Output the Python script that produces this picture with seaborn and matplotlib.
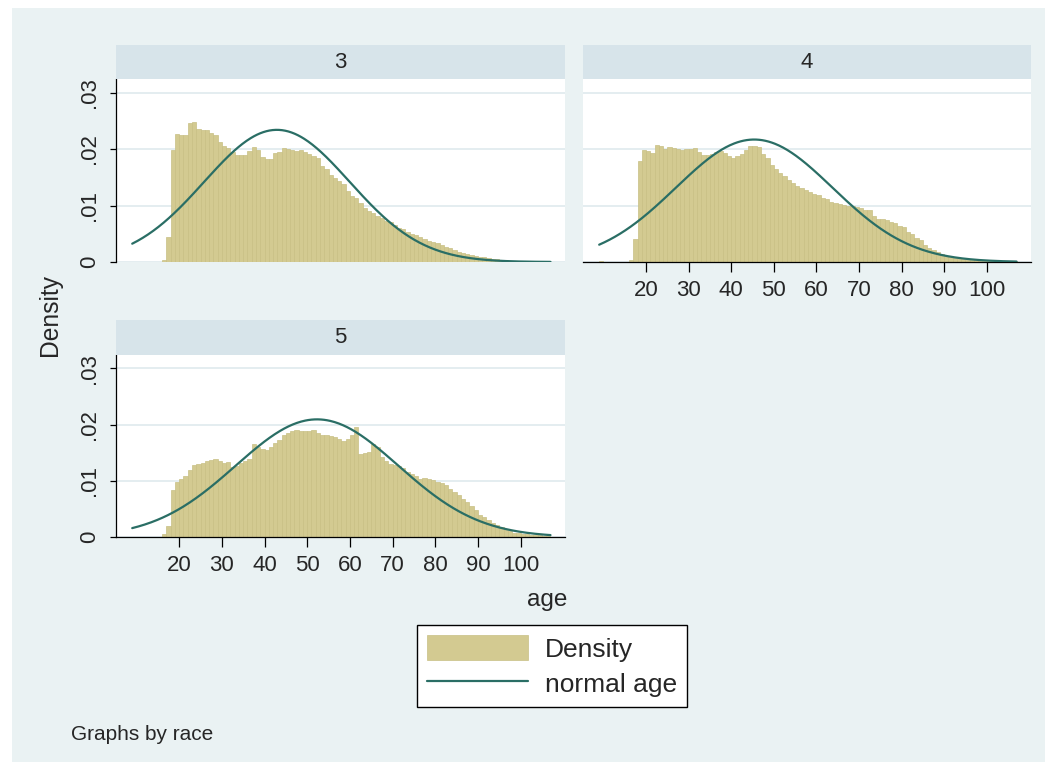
import numpy as np
import pandas as pd
import matplotlib
matplotlib.use("Agg")
import matplotlib.pyplot as plt
import seaborn as sns
from matplotlib.patches import Rectangle, Patch
from matplotlib.lines import Line2D

# ---------------- data ----------------
races = ["3", "4", "5"]
bin_start = 9          # first bin left edge (years)
bin_width = 1
# density per 1-year bin, ages 9 .. 106
density_race3 = [0, 0, 0, 0, 0, 0, 0,
                 0.0004, 0.0045, 0.0199, 0.0227, 0.0225, 0.0224, 0.0246, 0.0247, 0.0235, 0.0233,
                 0.0234, 0.0228, 0.0224, 0.0212, 0.0205, 0.0202, 0.0194, 0.0190, 0.0190, 0.0190,
                 0.0197, 0.0203, 0.0199, 0.0186, 0.0183, 0.0182, 0.0193, 0.0195, 0.0201, 0.0200,
                 0.0199, 0.0197, 0.0199, 0.0194, 0.0191, 0.0188, 0.0185, 0.0170, 0.0164, 0.0154,
                 0.0148, 0.0143, 0.0138, 0.0126, 0.0117, 0.0113, 0.0104, 0.0095, 0.0091, 0.0086,
                 0.0082, 0.0078, 0.0073, 0.0071, 0.0065, 0.0061, 0.0059, 0.0054, 0.0050, 0.0047,
                 0.0045, 0.0041, 0.0038, 0.0036, 0.0033, 0.0030, 0.0027, 0.0024, 0.0021, 0.0018,
                 0.0016, 0.0014, 0.0012, 0.0011, 0.0009, 0.0008, 0.0007, 0.0005, 0.0005, 0.0004,
                 0.0003, 0.0002, 0.0002, 0.0002, 0.0001, 0.00005, 0.00005, 0.00005, 0.00005,
                 0.00005, 0.00005]
density_race4 = [0.0002, 0, 0, 0, 0, 0, 0,
                 0.0004, 0.0040, 0.0178, 0.0199, 0.0196, 0.0193, 0.0208, 0.0206, 0.0200, 0.0203,
                 0.0202, 0.0200, 0.0199, 0.0200, 0.0200, 0.0202, 0.0194, 0.0190, 0.0190, 0.0191,
                 0.0194, 0.0196, 0.0193, 0.0188, 0.0184, 0.0187, 0.0192, 0.0199, 0.0205, 0.0205,
                 0.0204, 0.0191, 0.0185, 0.0172, 0.0165, 0.0157, 0.0153, 0.0146, 0.0140, 0.0135,
                 0.0131, 0.0128, 0.0124, 0.0121, 0.0118, 0.0114, 0.0111, 0.0107, 0.0104, 0.0102,
                 0.0101, 0.0099, 0.0099, 0.0098, 0.0095, 0.0092, 0.0092, 0.0082, 0.0077, 0.0076,
                 0.0075, 0.0071, 0.0069, 0.0063, 0.0062, 0.0053, 0.0049, 0.0043, 0.0039, 0.0030,
                 0.0025, 0.0021, 0.0017, 0.0014, 0.0011, 0.0009, 0.0007, 0.0006, 0.0005, 0.0004,
                 0.0004, 0.0003, 0.0002, 0.0002, 0.0002, 0.0001, 0.0001, 0.0001, 0.0001,
                 0.0001, 0.0001]
density_race5 = [0, 0, 0, 0, 0, 0, 0,
                 0.0005, 0.0019, 0.0083, 0.0098, 0.0104, 0.0108, 0.0120, 0.0129, 0.0130, 0.0132,
                 0.0136, 0.0137, 0.0139, 0.0136, 0.0132, 0.0133, 0.0124, 0.0126, 0.0132, 0.0136,
                 0.0139, 0.0166, 0.0161, 0.0157, 0.0155, 0.0160, 0.0167, 0.0172, 0.0182, 0.0186,
                 0.0189, 0.0191, 0.0189, 0.0188, 0.0189, 0.0191, 0.0185, 0.0182, 0.0181, 0.0179,
                 0.0178, 0.0175, 0.0171, 0.0175, 0.0181, 0.0196, 0.0148, 0.0150, 0.0152, 0.0166,
                 0.0161, 0.0142, 0.0135, 0.0130, 0.0128, 0.0127, 0.0122, 0.0116, 0.0112, 0.0108,
                 0.0104, 0.0105, 0.0104, 0.0101, 0.0098, 0.0096, 0.0092, 0.0086, 0.0080, 0.0074,
                 0.0068, 0.0062, 0.0055, 0.0048, 0.0040, 0.0035, 0.0030, 0.0025, 0.0021, 0.0017,
                 0.0013, 0.0010, 0.0008, 0.0007, 0.0006, 0.0005, 0.0004, 0.0003, 0.0003,
                 0.0002, 0.0002]
# normal overlay parameters (mean, sd of age per race)
normal_mean = {"3": 42.9, "4": 45.4, "5": 52.3}
normal_sd = {"3": 17.05, "4": 18.4, "5": 19.05}
age_min, age_max = 9, 107

x_ticks = [20, 30, 40, 50, 60, 70, 80, 90, 100]
y_ticks = [0, 0.01, 0.02, 0.03]
y_tick_labels = ["0", ".01", ".02", ".03"]

# ---------------- styling ----------------
BG = "#EAF2F3"
STRIP = "#D7E4EA"
GRID = "#E2ECEF"
BAR = "#D3CA91"
BAR_EDGE = "#C8BF84"
LINE = "#2A6E65"
FONT = ["Liberation Sans", "DejaVu Sans"]
TICK_FS = 16

sns.set_style("white")
plt.rcParams["font.family"] = FONT

W, H = 1049, 771
fig = plt.figure(figsize=(W / 100, H / 100), dpi=100)
fig.patch.set_facecolor("white")
fig.patches.append(Rectangle((12 / W, 1 - 762 / H), (1045 - 12) / W, (762 - 8) / H,
                             transform=fig.transFigure, facecolor=BG, edgecolor="none", zorder=-10))


def rect(x0, y0, x1, y1):
    return [x0 / W, 1 - y1 / H, (x1 - x0) / W, (y1 - y0) / H]


rows = []
for r, dens in zip(races, [density_race3, density_race4, density_race5]):
    for i, d in enumerate(dens):
        rows.append({"race": r, "age": bin_start + i * bin_width + 0.5, "density": d})
df = pd.DataFrame(rows)

layout = {
    "3": dict(plot=(116, 79, 565, 262), strip=(116, 45, 565, 79), yaxis=True, xaxis=False),
    "4": dict(plot=(583, 79, 1031, 262), strip=(583, 45, 1031, 79), yaxis=False, xaxis=True),
    "5": dict(plot=(116, 355, 565, 537), strip=(116, 320, 565, 355), yaxis=True, xaxis=True),
}

for r in races:
    L = layout[r]
    ax = fig.add_axes(rect(*L["plot"]))
    ax.set_facecolor("white")
    sub = df[df.race == r].reset_index(drop=True)
    sns.histplot(data=sub, x="age", weights="density", binwidth=bin_width,
                 binrange=(age_min, age_max), stat="count",
                 color=BAR, edgecolor=BAR_EDGE, linewidth=0.5, alpha=1.0, ax=ax, zorder=2)
    xs = np.linspace(age_min, age_max, 400)
    mu, sd = normal_mean[r], normal_sd[r]
    ys = np.exp(-0.5 * ((xs - mu) / sd) ** 2) / (sd * np.sqrt(2 * np.pi))
    sns.lineplot(x=xs, y=ys, ax=ax, color=LINE, linewidth=1.6, zorder=3)
    ax.set_xlim(5.2, 110.4)
    ax.set_ylim(0, 0.0324)
    ax.set_xticks(x_ticks)
    ax.set_yticks(y_ticks)
    ax.set_yticklabels(y_tick_labels)
    ax.set_xticklabels([str(t) for t in x_ticks])
    ax.set_xlabel("")
    ax.set_ylabel("")
    ax.yaxis.grid(True, color=GRID, linewidth=1.3, zorder=0)
    ax.xaxis.grid(False)
    ax.set_axisbelow(True)
    for s in ["top", "right"]:
        ax.spines[s].set_visible(False)
    ax.spines["left"].set_visible(L["yaxis"])
    ax.spines["bottom"].set_visible(L["xaxis"])
    for s in ["left", "bottom"]:
        ax.spines[s].set_color("black")
        ax.spines[s].set_linewidth(0.9)
    if L["yaxis"]:
        ax.tick_params(axis="y", direction="out", length=4.5, width=0.9, color="black",
                       labelsize=TICK_FS, pad=7, labelrotation=90, left=True)
        for lab in ax.get_yticklabels():
            lab.set_va("center")
    else:
        ax.tick_params(axis="y", length=0, labelleft=False, left=False)
    if L["xaxis"]:
        ax.tick_params(axis="x", direction="out", length=7.2, width=0.9, color="black",
                       labelsize=TICK_FS, pad=5.5, bottom=True)
    else:
        ax.tick_params(axis="x", length=0, labelbottom=False, bottom=False)

    sax = fig.add_axes(rect(*L["strip"]))
    sax.set_facecolor(STRIP)
    sax.set_xticks([])
    sax.set_yticks([])
    for s in sax.spines.values():
        s.set_visible(False)
    sax.text(0.5, 0.5, r, ha="center", va="center", fontsize=16, transform=sax.transAxes)

fig.text(50 / W, 1 - 315 / H, "Density", rotation=90, ha="center", va="center", fontsize=17.7)
fig.text(547 / W, 1 - 600 / H, "age", ha="center", va="center", fontsize=17.5)
fig.text(71 / W, 1 - 735 / H, "Graphs by race", ha="left", va="center", fontsize=15)

handles = [Patch(facecolor=BAR, edgecolor=BAR_EDGE, linewidth=0.5),
           Line2D([0], [0], color=LINE, linewidth=1.6)]
leg = fig.legend(handles, ["Density", "normal age"], loc="center",
                 bbox_to_anchor=(552 / W, 1 - 666 / H), frameon=True, fancybox=False,
                 framealpha=1, edgecolor="black", fontsize=19, handlelength=3.85,
                 handleheight=1.1, handletextpad=0.64, labelspacing=0.34, borderpad=0.36)
leg.get_frame().set_linewidth(1.0)

fig.savefig("out.png", dpi=100, facecolor=fig.get_facecolor())
